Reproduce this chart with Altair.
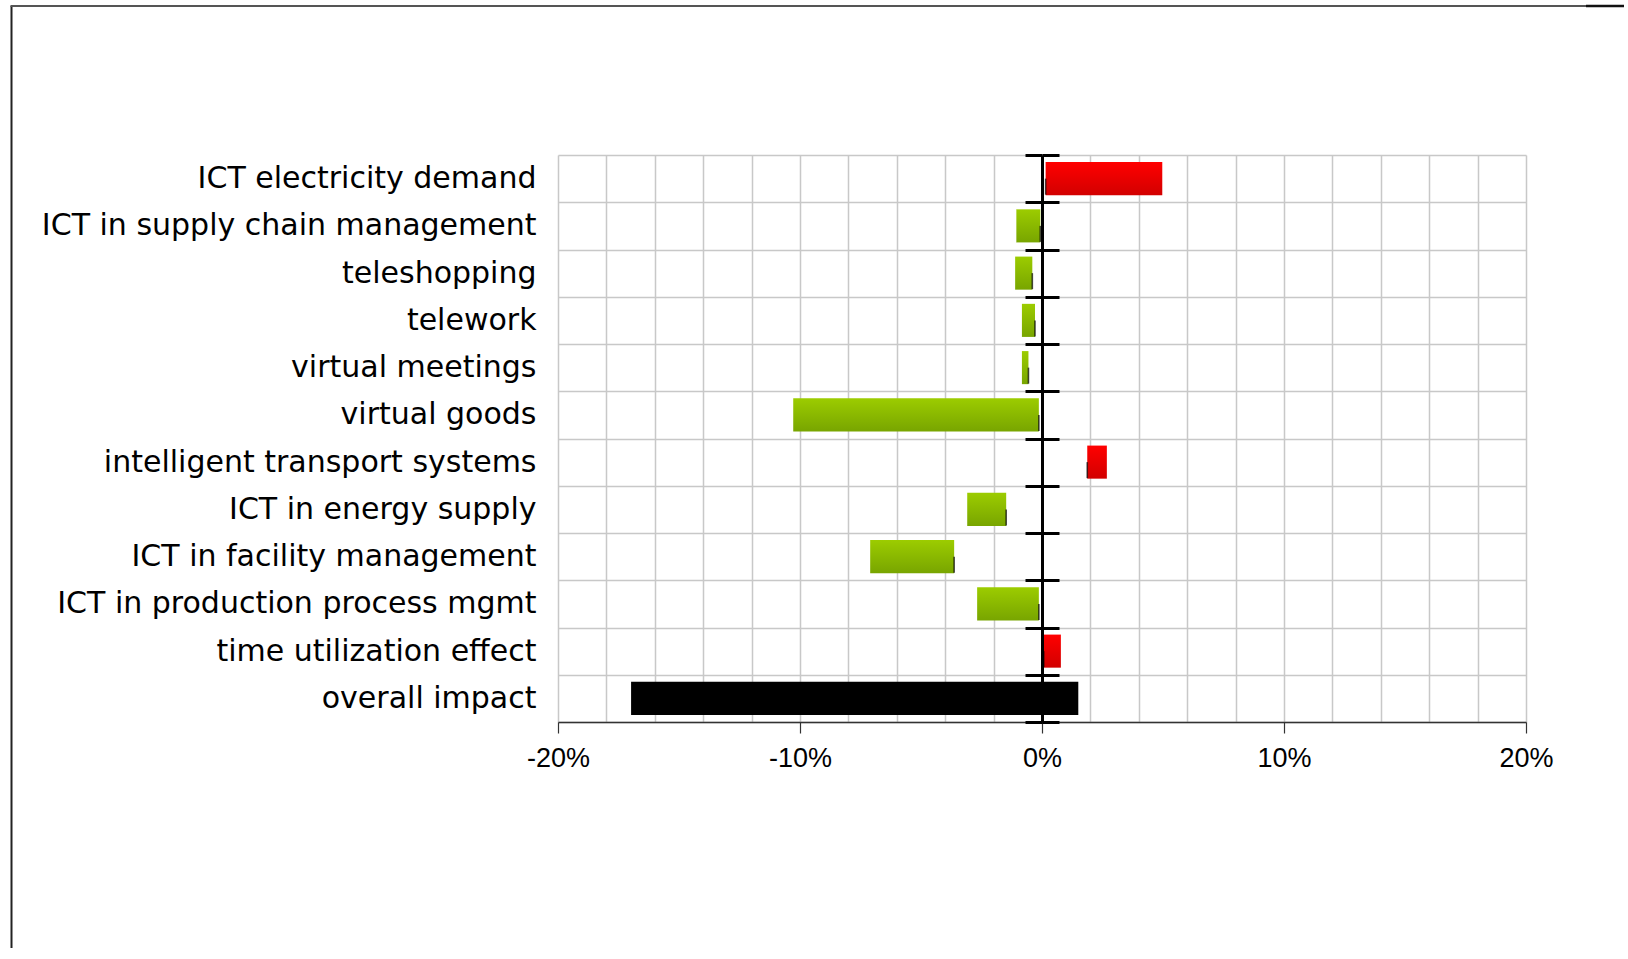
import altair as alt
import pandas as pd

# Rows of the impact chart, top to bottom
categories = [
    "ICT electricity demand",
    "ICT in supply chain management",
    "teleshopping",
    "telework",
    "virtual meetings",
    "virtual goods",
    "intelligent transport systems",
    "ICT in energy supply",
    "ICT in facility management",
    "ICT in production process mgmt",
    "time utilization effect",
    "overall impact",
]
# Left and right ends of each bar, in percent
low = [0.15, -1.06, -1.11, -0.83, -0.83, -10.28, 1.87, -3.09, -7.10, -2.68, 0.07, -16.98]
high = [4.97, -0.07, -0.40, -0.29, -0.56, -0.13, 2.68, -1.48, -3.63, -0.13, 0.78, 1.50]
kind = ["increase", "decrease", "decrease", "decrease", "decrease", "decrease",
        "increase", "decrease", "decrease", "decrease", "increase", "total"]
grid_values = list(range(-20, 21, 2))
label_values = [-20, -10, 0, 10, 20]

df = pd.DataFrame({"category": categories, "low": low, "high": high, "kind": kind})
# the end a bar grows from (marked with a short black line)
df["anchor"] = [l if k == "increase" else h for l, h, k in zip(low, high, kind)]

W, H = 968, 567
GRID = "#c8c8c8"

x_scale = alt.Scale(domain=[-20, 20], nice=False, zero=False)
y_scale = alt.Scale(domain=categories, paddingInner=0, paddingOuter=0)

# vertical grid every 2 %
x_grid_axis = alt.Axis(
    orient="bottom",
    values=grid_values,
    title=None,
    grid=True,
    gridColor=GRID,
    gridWidth=1.5,
    domain=False,
    ticks=False,
    labels=False,
)

# labelled axis every 10 %
x_label_axis = alt.Axis(
    orient="bottom",
    values=label_values,
    title=None,
    grid=False,
    domainColor="#333333",
    domainWidth=1.5,
    tickColor="#333333",
    tickSize=11,
    tickWidth=1.2,
    labelExpr="datum.value + '%'",
    labelFont="Liberation Sans",
    labelFontSize=27,
    labelColor="black",
    labelPadding=12,
    labelFlush=False,
    labelOverlap=False,
)

label_axis = alt.Axis(
    orient="left",
    title=None,
    domain=False,
    ticks=False,
    grid=True,
    gridColor=GRID,
    gridWidth=1.5,
    tickBand="extent",
    labelFont="DejaVu Sans",
    labelFontSize=30,
    labelColor="black",
    labelPadding=22,
    labelLimit=700,
)


def zero_axis(orient, domain):
    return alt.Axis(
        orient=orient,
        offset=-W / 2,
        title=None,
        labels=False,
        grid=False,
        domain=domain,
        domainColor="black",
        domainWidth=3,
        ticks=True,
        tickColor="black",
        tickWidth=3,
        tickSize=17,
        tickBand="extent",
        zindex=2,
    )


def gradient(top, bottom):
    return alt.LinearGradient(
        gradient="linear",
        stops=[alt.GradientStop(color=top, offset=0), alt.GradientStop(color=bottom, offset=1)],
        x1=0, x2=0, y1=0, y2=1,
    )


base = alt.Chart(df)

green = base.transform_filter("datum.kind === 'decrease'").mark_bar(
    color=gradient("#9ccc00", "#78a500"), height=alt.RelativeBandSize(0.7)
).encode(
    x=alt.X("low:Q", scale=x_scale, axis=x_grid_axis),
    x2="high:Q",
    y=alt.Y("category:N", scale=y_scale, sort=categories, axis=label_axis),
)

red = base.transform_filter("datum.kind === 'increase'").mark_bar(
    color=gradient("#ff0000", "#d20000"), height=alt.RelativeBandSize(0.7)
).encode(
    x=alt.X("low:Q", scale=x_scale, axis=x_label_axis),
    x2="high:Q",
    y=alt.Y("category:N", scale=y_scale, sort=categories, axis=zero_axis("left", True)),
)

total = base.transform_filter("datum.kind === 'total'").mark_bar(
    color="black", height=alt.RelativeBandSize(0.7)
).encode(
    x=alt.X("low:Q", scale=x_scale, axis=None),
    x2="high:Q",
    y=alt.Y("category:N", scale=y_scale, sort=categories, axis=zero_axis("right", False)),
)

markers = base.transform_filter("datum.kind !== 'total'").mark_tick(
    orient="vertical", size=16, thickness=1.6, color="black", yOffset=8
).encode(
    x=alt.X("anchor:Q", scale=x_scale, axis=None),
    y=alt.Y("category:N", scale=y_scale, sort=categories, axis=None),
)

# thin frame around the figure
frame_df = pd.DataFrame({"frame": [0]})
frame_left = alt.Chart(frame_df).mark_rule(color="#222222", strokeWidth=2).encode(
    x=alt.value(-546.5), y=alt.value(-149), y2=alt.value(H + 240)
)
frame_top = alt.Chart(frame_df).mark_rule(color="#555555", strokeWidth=2).encode(
    x=alt.value(-547.5), x2=alt.value(1028), y=alt.value(-149)
)
frame_top_end = alt.Chart(frame_df).mark_rule(color="#111111", strokeWidth=2.5).encode(
    x=alt.value(1028), x2=alt.value(1070), y=alt.value(-149)
)

chart = (
    alt.layer(green, red, total, markers, frame_left, frame_top, frame_top_end)
    .resolve_axis(x="independent", y="independent")
    .properties(
        width=W,
        height=H,
        autosize=alt.AutoSizeParams(type="none"),
        padding={"left": 558, "top": 155, "right": 1628 - 558 - W - 4, "bottom": 226},
        background="white",
    )
    .configure_view(stroke=None)
)

chart.save("out.html", embed_options={"renderer": "svg", "actions": False})
